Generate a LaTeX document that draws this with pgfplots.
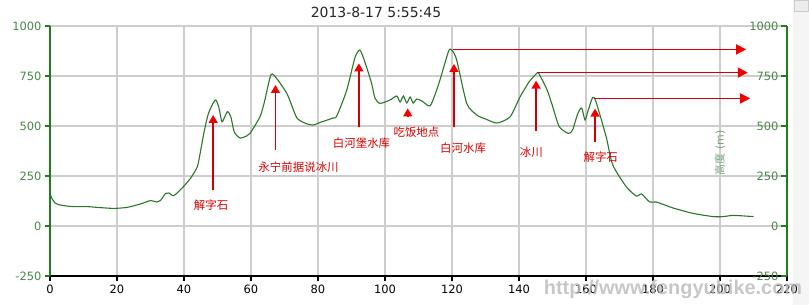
\documentclass[border=0pt]{standalone}
\usepackage{fontspec}
\setmainfont{DejaVu Sans}
\newfontfamily\cjk{Noto Sans CJK SC}
\newfontfamily\wmfont{Liberation Sans}
\usepackage{pgfplots}
\pgfplotsset{compat=1.18}
\usetikzlibrary{arrows.meta}
\definecolor{axgreen}{RGB}{30,125,30}
\definecolor{tkgreen}{RGB}{70,135,70}
\definecolor{curvegreen}{RGB}{40,120,40}
\definecolor{gridgray}{RGB}{205,205,205}
\definecolor{annred}{RGB}{215,0,0}
\definecolor{linered}{RGB}{205,0,10}
\definecolor{tired}{RGB}{240,0,0}
\definecolor{lblgreen}{RGB}{120,165,120}
\begin{document}
\begin{tikzpicture}
\useasboundingbox (-50bp,-29bp) rectangle (759bp,276bp);
\fill[gray!8] (743bp,-29bp) rectangle (759bp,276bp);
\draw[gray!40, fill=gray!15] (744bp,265bp) rectangle (758bp,276bp);
\begin{axis}[
  at={(0,0)}, anchor=south west,
  scale only axis, width=737bp, height=250bp,
  xmin=0, xmax=220, ymin=-250, ymax=1000,
  xtick={0,20,...,220}, ytick={-250,0,250,500,750,1000},
  grid=major, grid style={gridgray, line width=1.2bp},
  axis x line*=bottom, axis y line*=left,
  x axis line style={black, line width=2.5bp, -},
  y axis line style={axgreen, line width=2.5bp, -},
  tick align=outside, major tick length=5bp,
  xtick style={black, line width=1.5bp},
  ytick style={axgreen, line width=1.5bp},
  /pgf/number format/assume math mode=true,
  /pgf/number format/1000 sep={},
  xticklabel style={font=\fontsize{11.5}{12}\selectfont, black},
  yticklabel style={font=\fontsize{11.5}{12}\selectfont, tkgreen},
  clip=false,
]
\addplot[curvegreen, line width=1.1bp, smooth, tension=0.4] coordinates {
(0,165) (0.5,140) (1.5,115) (3,105) (5,100) (7,97) (11,97) (15,92) (19,88)
(23,93) (27,110) (30,127) (32,120) (33,128) (34.5,163) (35.5,165) (37,152) (40,200)
(42,240) (44,297) (45,380) (46,470) (47.3,563) (49.3,630) (50.3,600) (51.3,522)
(52,540) (53,572) (54,545) (55,470) (56.7,440) (58,445) (59.7,463) (62.7,547)
(64,620) (66,758) (68,730) (70.7,663) (72,610) (73.7,540) (76,515) (78.5,505)
(81,520) (84.5,540) (85.6,550) (88.6,680) (91,840) (92.5,880) (94,820) (96,713)
(97,640) (98.5,613) (101.5,630) (103.5,650) (104.5,620) (105.5,650) (106.5,615)
(107.5,645) (108.4,615) (109.5,635) (111,625) (113.4,600) (115,660) (116.4,730)
(119,875) (120,878) (121.4,830) (124.4,613) (127.4,555) (130,535) (133.4,515)
(137.3,545) (140.3,645) (143,720) (145.4,765) (146,760) (148.4,680) (150,600)
(152,497) (154.7,463) (156,480) (157.5,560) (158.7,590) (159.7,530) (160.5,570)
(162,643) (163,620) (166,447) (168,305) (172,197) (175,150) (176.6,160) (179,120)
(181,120) (186,90) (192,63) (198,47) (201,47) (204,53) (210,47)
};
% vertical arrows
\draw[color=linered, line width=1.5bp, -{Triangle[width=9bp,length=8bp,color=tired]}] (axis cs:48.7,180) -- (axis cs:48.7,555);
\draw[color=linered, line width=1.5bp, -{Triangle[width=9bp,length=8bp,color=tired]}] (axis cs:67.3,380) -- (axis cs:67.3,705);
\draw[color=linered, line width=1.5bp, -{Triangle[width=9bp,length=8bp,color=tired]}] (axis cs:92.2,495) -- (axis cs:92.2,813);
\draw[color=linered, line width=1.5bp, -{Triangle[width=9bp,length=8bp,color=tired]}] (axis cs:106.8,545) -- (axis cs:106.8,588);
\draw[color=linered, line width=1.5bp, -{Triangle[width=9bp,length=8bp,color=tired]}] (axis cs:120.6,495) -- (axis cs:120.6,810);
\draw[color=linered, line width=1.5bp, -{Triangle[width=9bp,length=8bp,color=tired]}] (axis cs:145.1,477) -- (axis cs:145.1,727);
\draw[color=linered, line width=1.5bp, -{Triangle[width=9bp,length=8bp,color=tired]}] (axis cs:162.7,422) -- (axis cs:162.7,587);
% horizontal arrows
\draw[color=linered, line width=1.5bp, -{Triangle[width=10bp,length=10bp,color=tired]}] (axis cs:120.2,883) -- (axis cs:207.8,883);
\draw[color=linered, line width=1.5bp, -{Triangle[width=10bp,length=10bp,color=tired]}] (axis cs:145.3,767) -- (axis cs:208.3,767);
\draw[color=linered, line width=1.5bp, -{Triangle[width=10bp,length=10bp,color=tired]}] (axis cs:162.5,638) -- (axis cs:209,638);
\node[font=\cjk\fontsize{11.5}{12}\selectfont, text=annred, inner sep=0pt] at (axis cs:48.1,105) {解字石};
\node[font=\cjk\fontsize{11.5}{12}\selectfont, text=annred, inner sep=0pt] at (axis cs:74.2,295) {永宁前据说冰川};
\node[font=\cjk\fontsize{11.5}{12}\selectfont, text=annred, inner sep=0pt] at (axis cs:93.0,415) {白河堡水库};
\node[font=\cjk\fontsize{11.5}{12}\selectfont, text=annred, inner sep=0pt] at (axis cs:109.4,470) {吃饭地点};
\node[font=\cjk\fontsize{11.5}{12}\selectfont, text=annred, inner sep=0pt] at (axis cs:123.3,390) {白河水库};
\node[font=\cjk\fontsize{11.5}{12}\selectfont, text=annred, inner sep=0pt] at (axis cs:143.7,370) {冰川};
\node[font=\cjk\fontsize{11.5}{12}\selectfont, text=annred, inner sep=0pt] at (axis cs:164.4,345) {解字石};
\node[rotate=90, text=lblgreen, font=\fontsize{11}{12}\selectfont, inner sep=0pt] at (axis cs:200,365) {{\cjk 高度} (m)};
\end{axis}
\begin{axis}[
  at={(0,0)}, anchor=south west,
  scale only axis, width=737bp, height=250bp,
  xmin=0, xmax=220, ymin=-250, ymax=1000,
  ytick={-250,0,250,500,750,1000},
  axis x line=none, axis y line*=right,
  y axis line style={axgreen, line width=2.5bp, -},
  tick align=inside, major tick length=6bp,
  ytick style={axgreen, line width=1.5bp},
  /pgf/number format/assume math mode=true,
  /pgf/number format/1000 sep={},
  yticklabel style={font=\fontsize{11.5}{12}\selectfont, tkgreen, anchor=east, xshift=-5bp},
]
\addplot[draw=none] coordinates {(0,0)};
\end{axis}
\node[font=\fontsize{14}{16}\selectfont, text=black!85] at (326bp,264bp) {2013-8-17 5:55:45};
\node[font=\wmfont\bfseries\fontsize{20}{22}\selectfont, text=gray!55, opacity=0.8, inner sep=0pt] at (623bp,-13bp) {http://www.fengyubike.com};
\end{tikzpicture}
\end{document}
